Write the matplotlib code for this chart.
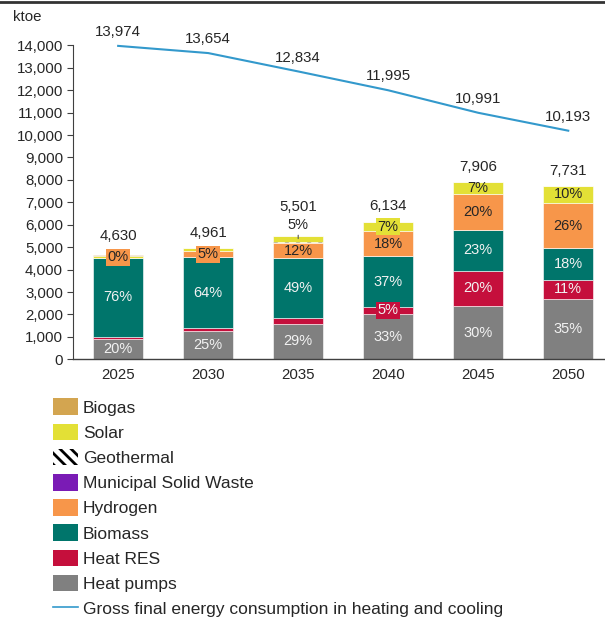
# Heating & cooling: stacked RES mix per year + gross final consumption line
import numpy as np
import matplotlib
matplotlib.use("Agg")
import matplotlib.pyplot as plt
from matplotlib.patches import Patch
from matplotlib.lines import Line2D

plt.rcParams["font.family"] = ["Liberation Sans", "DejaVu Sans"]
plt.rcParams["hatch.linewidth"] = 2.0

###############################################################################
### Data (ktoe) ###############################################################
###############################################################################
years = ["2025", "2030", "2035", "2040", "2045", "2050"]

heat_pumps = [926, 1240, 1595, 2024, 2372, 2706]
heat_res = [70, 150, 230, 307, 1581, 850]
biomass = [3519, 3175, 2695, 2270, 1818, 1392]
msw = [0, 0, 0, 0, 0, 0]
hydrogen = [15, 248, 660, 1104, 1581, 2010]
geothermal = [0, 0, 30, 0, 25, 25]
solar = [85, 148, 275, 429, 529, 748]
biogas = [15, 0, 16, 0, 0, 0]

totals = [4630, 4961, 5501, 6134, 7906, 7731]
gross_hc = [13974, 13654, 12834, 11995, 10991, 10193]

# share labels as printed on the bars
hp_pct = ["20%", "25%", "29%", "33%", "30%", "35%"]
res_pct = [None, None, None, "5%", "20%", "11%"]
bio_pct = ["76%", "64%", "49%", "37%", "23%", "18%"]
h2_pct = ["0%", "5%", "12%", "18%", "20%", "26%"]
solar_pct = [None, None, "5%", "7%", "7%", "10%"]

###############################################################################
### Styling ###################################################################
###############################################################################
c_hp = "#808080"
c_res = "#C50F3C"
c_bio = "#00756B"
c_msw = "#7A1BB5"
c_h2 = "#F7964A"
c_solar = "#E3E036"
c_biogas = "#D3A550"
c_line = "#3399CC"
txt_dark = "#262626"
txt_light = "#F2F2F2"

fs = 10.8     # ticks, totals
fs_pct = 10.5  # shares on bars

fig = plt.figure(figsize=(6.05, 6.18), dpi=100)
ax = fig.add_axes([72.7 / 605, 1 - 359.3 / 618, 532 / 605, 314 / 618])

x = np.arange(len(years))
bw = 0.555

series = [
    ("Heat pumps", heat_pumps, c_hp, None),
    ("Heat RES", heat_res, c_res, None),
    ("Biomass", biomass, c_bio, None),
    ("Municipal Solid Waste", msw, c_msw, None),
    ("Hydrogen", hydrogen, c_h2, None),
    ("Geothermal", geothermal, "white", "\\\\\\"),
    ("Solar", solar, c_solar, None),
    ("Biogas", biogas, c_biogas, None),
]

bottom = np.zeros(len(years))
bottoms = {}
for name, vals, col, hatch in series:
    vals = np.array(vals, dtype=float)
    bottoms[name] = bottom.copy()
    if hatch:
        ax.bar(x, vals, bw, bottom=bottom, color=col, hatch=hatch,
               edgecolor="black", linewidth=0, zorder=2)
    else:
        ax.bar(x, vals, bw, bottom=bottom, color=col,
               edgecolor="white", linewidth=0.4, zorder=2)
    bottom = bottom + vals


def seg_labels(name, vals, labels, col, tcol, boxed=()):
    for i, lab in enumerate(labels):
        if lab is None:
            continue
        y = bottoms[name][i] + vals[i] / 2
        bbox = None
        if i in boxed:
            bbox = dict(boxstyle="square,pad=0.1", fc=col, ec="none")
        ax.text(x[i], y, lab, ha="center", va="center", fontsize=fs_pct,
                color=tcol, bbox=bbox, zorder=4)


seg_labels("Heat pumps", heat_pumps, hp_pct, c_hp, txt_light)
seg_labels("Heat RES", heat_res, res_pct, c_res, txt_light, boxed=(3,))
seg_labels("Biomass", biomass, bio_pct, c_bio, txt_light)
h2_lab = list(h2_pct)
ax.text(x[0], totals[0] - 80, h2_lab[0], ha="center", va="center",
        fontsize=fs_pct, color=txt_dark,
        bbox=dict(boxstyle="square,pad=0.1", fc=c_h2, ec="none"), zorder=4)
h2_lab[0] = None
seg_labels("Hydrogen", hydrogen, h2_lab, c_h2, txt_dark, boxed=(1,))
solar_lab = list(solar_pct)
# 2035 solar share sits above the bar with a small leader line
ax.annotate(solar_lab[2], xy=(x[2], totals[2] - 120), xytext=(0, 9.5),
            textcoords="offset points", ha="center", va="center",
            fontsize=fs_pct, color=txt_dark, zorder=4,
            arrowprops=dict(arrowstyle="-", color="#555555", lw=0.8,
                            shrinkA=5, shrinkB=0))
solar_lab[2] = None
seg_labels("Solar", solar, solar_lab, c_solar, txt_dark, boxed=(3,))

# totals above the bars
tot_offset = [11, 8, 18, 8, 8, 8]
for i, t in enumerate(totals):
    ax.annotate(f"{t:,}", xy=(x[i], t), xytext=(0, tot_offset[i] + 3),
                textcoords="offset points", ha="center", va="center",
                fontsize=fs, color=txt_dark, zorder=4)

# gross final consumption line
ax.plot(x, gross_hc, color=c_line, linewidth=1.5, zorder=3, clip_on=False)
for i, g in enumerate(gross_hc):
    ax.annotate(f"{g:,}", xy=(x[i], g), xytext=(0, 10),
                textcoords="offset points", ha="center", va="center",
                fontsize=fs, color=txt_dark, annotation_clip=False)

# axes
ax.set_xlim(-0.505, 5.405)
ax.set_ylim(0, 14000)
ax.set_yticks(np.arange(0, 14001, 1000))
ax.set_yticklabels([f"{v:,}" for v in range(0, 14001, 1000)])
ax.set_xticks(x)
ax.set_xticklabels(years)
ax.tick_params(axis="y", direction="out", length=4, width=0.8, color="#404040",
               labelsize=fs, labelcolor=txt_dark, pad=3)
ax.tick_params(axis="x", length=0, labelsize=fs, labelcolor=txt_dark, pad=6)
for s in ["top", "right"]:
    ax.spines[s].set_visible(False)
ax.spines["left"].set_color("#404040")
ax.spines["bottom"].set_color("#404040")
ax.spines["left"].set_linewidth(0.8)
ax.spines["bottom"].set_linewidth(1.0)

fig.text(13 / 605, 1 - 17 / 618, "ktoe", ha="left", va="center", fontsize=fs,
         color=txt_dark)

# frame line along the top edge
fig.add_artist(Line2D([0, 1], [1 - 1.5 / 618, 1 - 1.5 / 618], color="#333333",
                      linewidth=2, transform=fig.transFigure))

# legend
handles = [
    Patch(facecolor=c_biogas, edgecolor="none", label="Biogas"),
    Patch(facecolor=c_solar, edgecolor="none", label="Solar"),
    Patch(facecolor="white", edgecolor="black", hatch="\\\\\\", linewidth=0,
          label="Geothermal"),
    Patch(facecolor=c_msw, edgecolor="none", label="Municipal Solid Waste"),
    Patch(facecolor=c_h2, edgecolor="none", label="Hydrogen"),
    Patch(facecolor=c_bio, edgecolor="none", label="Biomass"),
    Patch(facecolor=c_res, edgecolor="none", label="Heat RES"),
    Patch(facecolor=c_hp, edgecolor="none", label="Heat pumps"),
    Line2D([0], [0], color=c_line, linewidth=1.2,
           label="Gross final energy consumption in heating and cooling"),
]
fig.legend(handles=handles, loc="upper left",
           bbox_to_anchor=(52.7 / 605, 1 - 398.5 / 618), frameon=False,
           fontsize=12.5, handlelength=1.44, handleheight=1.09,
           handletextpad=0.29, labelspacing=0.46, borderpad=0,
           borderaxespad=0, labelcolor=txt_dark)

fig.savefig("out.png", dpi=100)
